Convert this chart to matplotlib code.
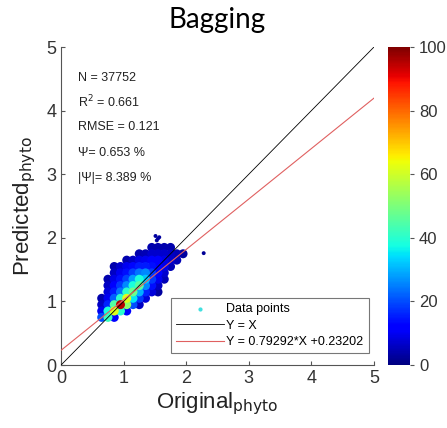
import numpy as np
import matplotlib
matplotlib.use("Agg")
import matplotlib.pyplot as plt

# density grid (cell centres, step 0.1)
x_cells = [0.65, 0.75, 0.85, 0.95, 1.05, 1.15, 1.25, 1.35, 1.45, 1.55, 1.65, 1.75, 1.85, 1.95]
y_cells = [0.75, 0.85, 0.95, 1.05, 1.15, 1.25, 1.35, 1.45, 1.55, 1.65, 1.75, 1.85]
density = [
    # 0.65 0.75 0.85 0.95 1.05 1.15 1.25 1.35 1.45 1.55 1.65 1.75 1.85 1.95
    [20, 42, 12, 0, 0, 0, 0, 0, 0, 0, 0, 0, 0, 0],          # 0.75
    [10, 38, 62, 40, 12, 0, 0, 0, 0, 0, 0, 0, 0, 0],        # 0.85
    [6, 16, 45, 95, 52, 20, 6, 0, 0, 0, 0, 0, 0, 0],        # 0.95
    [4, 10, 22, 40, 62, 35, 18, 8, 0, 0, 0, 0, 0, 0],       # 1.05
    [0, 8, 15, 24, 40, 48, 30, 16, 8, 3, 0, 0, 0, 0],       # 1.15
    [0, 6, 12, 18, 26, 38, 45, 26, 14, 6, 0, 0, 0, 0],      # 1.25
    [0, 4, 9, 14, 19, 28, 38, 32, 18, 10, 5, 0, 0, 0],      # 1.35
    [0, 0, 6, 10, 14, 19, 24, 26, 18, 12, 7, 0, 0, 0],      # 1.45
    [0, 0, 4, 7, 10, 13, 15, 15, 14, 12, 9, 5, 0, 0],       # 1.55
    [0, 0, 0, 0, 4, 6, 9, 10, 11, 11, 9, 7, 5, 0],          # 1.65
    [0, 0, 0, 0, 0, 0, 4, 5, 7, 7, 7, 6, 5, 3],             # 1.75
    [0, 0, 0, 0, 0, 0, 0, 0, 4, 4, 4, 4, 0, 0],             # 1.85
]
# a few isolated points
out_x = [1.51, 1.55, 1.53, 2.28, 1.31, 1.57]
out_y = [2.03, 1.99, 1.96, 1.76, 1.73, 2.01]
out_d = [3, 3, 3, 2, 4, 3]

slope, intercept = 0.79292, 0.23202
stats = ["N = 37752", r"R$^2$ = 0.661", "RMSE = 0.121", "\u03a8= 0.653 %", "|\u03a8|= 8.389 %"]
stats_y = [4.51, 4.14, 3.74, 3.33, 2.94]

plt.rcParams["font.family"] = ["Liberation Sans", "DejaVu Sans"]
fig = plt.figure(figsize=(4.47, 4.28), dpi=100)
ax = fig.add_axes([0.1365, 0.147, 0.70, 0.743])
cax = fig.add_axes([0.868, 0.147, 0.049, 0.743])

gx, gy = np.meshgrid(x_cells, y_cells)
d = np.array(density, dtype=float)
px = np.concatenate([gx[d > 0], out_x])
py = np.concatenate([gy[d > 0], out_y])
pd_ = np.concatenate([d[d > 0], out_d])
ps = np.concatenate([np.full((d > 0).sum(), 42.0), np.full(len(out_x), 8.0)])
order = np.argsort(pd_)
sc = ax.scatter(px[order], py[order], c=pd_[order], s=ps[order], cmap="jet", vmin=0, vmax=100,
                marker="o", edgecolors="none", zorder=2)
ax.scatter([], [], s=4, color="#40e0e0", label="Data points")

xl = np.array([0, 5])
ax.plot(xl, xl, color="black", lw=0.6, label="Y = X", zorder=3)
ax.plot(xl, slope * xl + intercept, color="#e06060", lw=0.8,
        label="Y = %.5f*X +%.5f" % (slope, intercept), zorder=3)

for s, yy in zip(stats, stats_y):
    ax.text(0.27, yy, s, fontsize=9, color="#222222", va="center")

ax.set_xlim(0, 5)
ax.set_ylim(0, 5)
ax.set_xticks(range(6))
ax.set_yticks(range(6))
for sp in ["top", "right"]:
    ax.spines[sp].set_visible(False)
for sp in ["left", "bottom"]:
    ax.spines[sp].set_color("#555555")
ax.tick_params(direction="in", length=3, labelsize=13, colors="#555555", labelcolor="#333333")
ax.set_xlabel(r"Original$_{\mathrm{phyto}}$", fontsize=16, color="#222222", labelpad=2)
ax.set_ylabel(r"Predicted$_{\mathrm{phyto}}$", fontsize=16, color="#222222", labelpad=6)
ax.set_title("Bagging", fontsize=20, family=["Lato", "DejaVu Sans"], pad=14)

leg = ax.legend(loc="lower right", bbox_to_anchor=(1.003, 0.018), fontsize=9, frameon=True,
                fancybox=False, edgecolor="#555555", handlelength=3.8, borderpad=0.4,
                labelspacing=0.35, handletextpad=0.2, markerscale=1)
leg.get_frame().set_linewidth(0.8)

cb = fig.colorbar(sc, cax=cax, ticks=[0, 20, 40, 60, 80, 100])
cb.outline.set_visible(False)
cb.ax.tick_params(labelsize=12, length=3, colors="#555555", labelcolor="#333333")

fig.savefig("out.png", dpi=100)
